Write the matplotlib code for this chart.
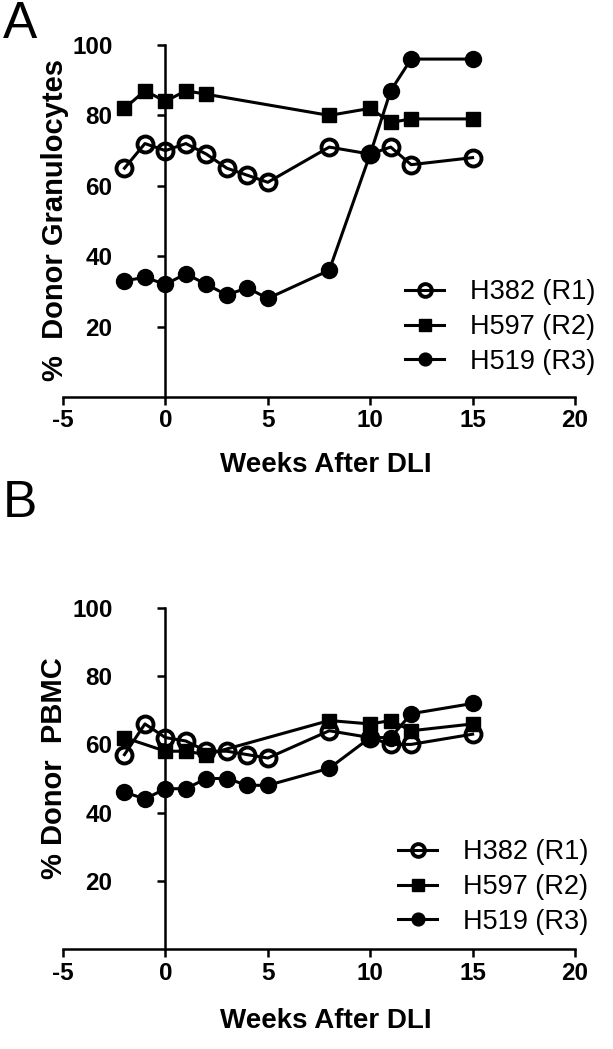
import matplotlib
matplotlib.use("Agg")
import matplotlib.pyplot as plt

plt.rcParams['font.family'] = ['Liberation Sans', 'DejaVu Sans']
plt.rcParams['axes.unicode_minus'] = False

# ---- data ----
# Panel A: % donor granulocytes
a_h382_x = [-2, -1, 0, 1, 2, 3, 4, 5, 8, 10, 11, 12, 15]
a_h382_y = [65, 72, 70, 72, 69, 65, 63, 61, 71, 69, 71, 66, 68]
a_h597_x = [-2, -1, 0, 1, 2, 8, 10, 11, 12, 15]
a_h597_y = [82, 87, 84, 87, 86, 80, 82, 78, 79, 79]
a_h519_x = [-2, -1, 0, 1, 2, 3, 4, 5, 8, 10, 11, 12, 15]
a_h519_y = [33, 34, 32, 35, 32, 29, 31, 28, 36, 69, 87, 96, 96]

# Panel B: % donor PBMC
b_h382_x = [-2, -1, 0, 1, 2, 3, 4, 5, 8, 10, 11, 12, 15]
b_h382_y = [57, 66, 62, 61, 58, 58, 57, 56, 64, 62, 60, 60, 63]
b_h597_x = [-2, 0, 1, 2, 8, 10, 11, 12, 15]
b_h597_y = [62, 58, 58, 57, 67, 66, 67, 64, 66]
b_h519_x = [-2, -1, 0, 1, 2, 3, 4, 5, 8, 10, 11, 12, 15]
b_h519_y = [46, 44, 47, 47, 50, 50, 48, 48, 53, 62, 62, 69, 72]

series_labels = ["H382 (R1)", "H597 (R2)", "H519 (R3)"]
x_ticks = [-5, 0, 5, 10, 15, 20]
y_ticks = [20, 40, 60, 80, 100]

W, H = 613, 1049
fig = plt.figure(figsize=(W / 100, H / 100), dpi=100)

LW = 2.2
SPW = 1.8


def style_axes(ax):
    ax.set_xlim(-5, 20)
    ax.set_ylim(0, 100)
    ax.spines['left'].set_position(('data', 0))
    ax.spines['top'].set_visible(False)
    ax.spines['right'].set_visible(False)
    for s in ('left', 'bottom'):
        ax.spines[s].set_linewidth(SPW)
    ax.set_xticks(x_ticks)
    ax.set_yticks(y_ticks)
    ax.tick_params(axis='x', direction='out', length=6, width=SPW, pad=3,
                   labelsize=17.5)
    ax.tick_params(axis='y', direction='out', length=6, width=SPW, pad=32,
                   labelsize=17.5)
    for lab in ax.get_xticklabels() + ax.get_yticklabels():
        lab.set_fontweight('bold')
    ax.patch.set_alpha(0)


def draw(ax, xs, ys):
    (x1, y1), (x2, y2), (x3, y3) = zip(xs, ys)
    ax.plot(x1, y1, '-o', color='black', lw=LW, ms=11.5, mew=2.8,
            mfc='none', mec='black', label=series_labels[0], clip_on=False)
    ax.plot(x2, y2, '-s', color='black', lw=LW, ms=10.5,
            mfc='black', mec='black', label=series_labels[1], clip_on=False)
    ax.plot(x3, y3, '-o', color='black', lw=LW, ms=11.5,
            mfc='black', mec='black', label=series_labels[2], clip_on=False)


leg_kw = dict(frameon=False, fontsize=19.5, handlelength=1.45,
              handletextpad=0.95, labelspacing=0.32, borderpad=0,
              borderaxespad=0, markerscale=0.8)

axA = fig.add_axes([63 / W, 1 - 397 / H, 512 / W, 352 / H])
style_axes(axA)
draw(axA, [a_h382_x, a_h597_x, a_h519_x], [a_h382_y, a_h597_y, a_h519_y])
axA.legend(loc='center left', bbox_to_anchor=((405 - 63) / 512, (397 - 327) / 352),
           **leg_kw)

B_TOP, B_BOT = 608, 949
axB = fig.add_axes([63 / W, 1 - B_BOT / H, 512 / W, (B_BOT - B_TOP) / H])
style_axes(axB)
draw(axB, [b_h382_x, b_h597_x, b_h519_x], [b_h382_y, b_h597_y, b_h519_y])
axB.legend(loc='center left',
           bbox_to_anchor=((398 - 63) / 512, (B_BOT - 887) / (B_BOT - B_TOP)),
           **leg_kw)

# axis titles
fig.text(55 / W, 1 - 220 / H, "%  Donor Granulocytes", rotation=90,
         ha='center', va='center', fontsize=21, fontweight='bold')
fig.text(54 / W, 1 - 768 / H, "% Donor  PBMC", rotation=90,
         ha='center', va='center', fontsize=21, fontweight='bold')
fig.text(326 / W, 1 - 465 / H, "Weeks After DLI", ha='center', va='center',
         fontsize=20, fontweight='bold')
fig.text(326 / W, 1 - 1021 / H, "Weeks After DLI", ha='center', va='center',
         fontsize=20, fontweight='bold')

# panel letters
fig.text(3 / W, 1 - 25 / H, "A", ha='left', va='center', fontsize=37)
fig.text(3 / W, 1 - 503 / H, "B", ha='left', va='center', fontsize=37)

fig.savefig("out.png", dpi=100, facecolor='white')
